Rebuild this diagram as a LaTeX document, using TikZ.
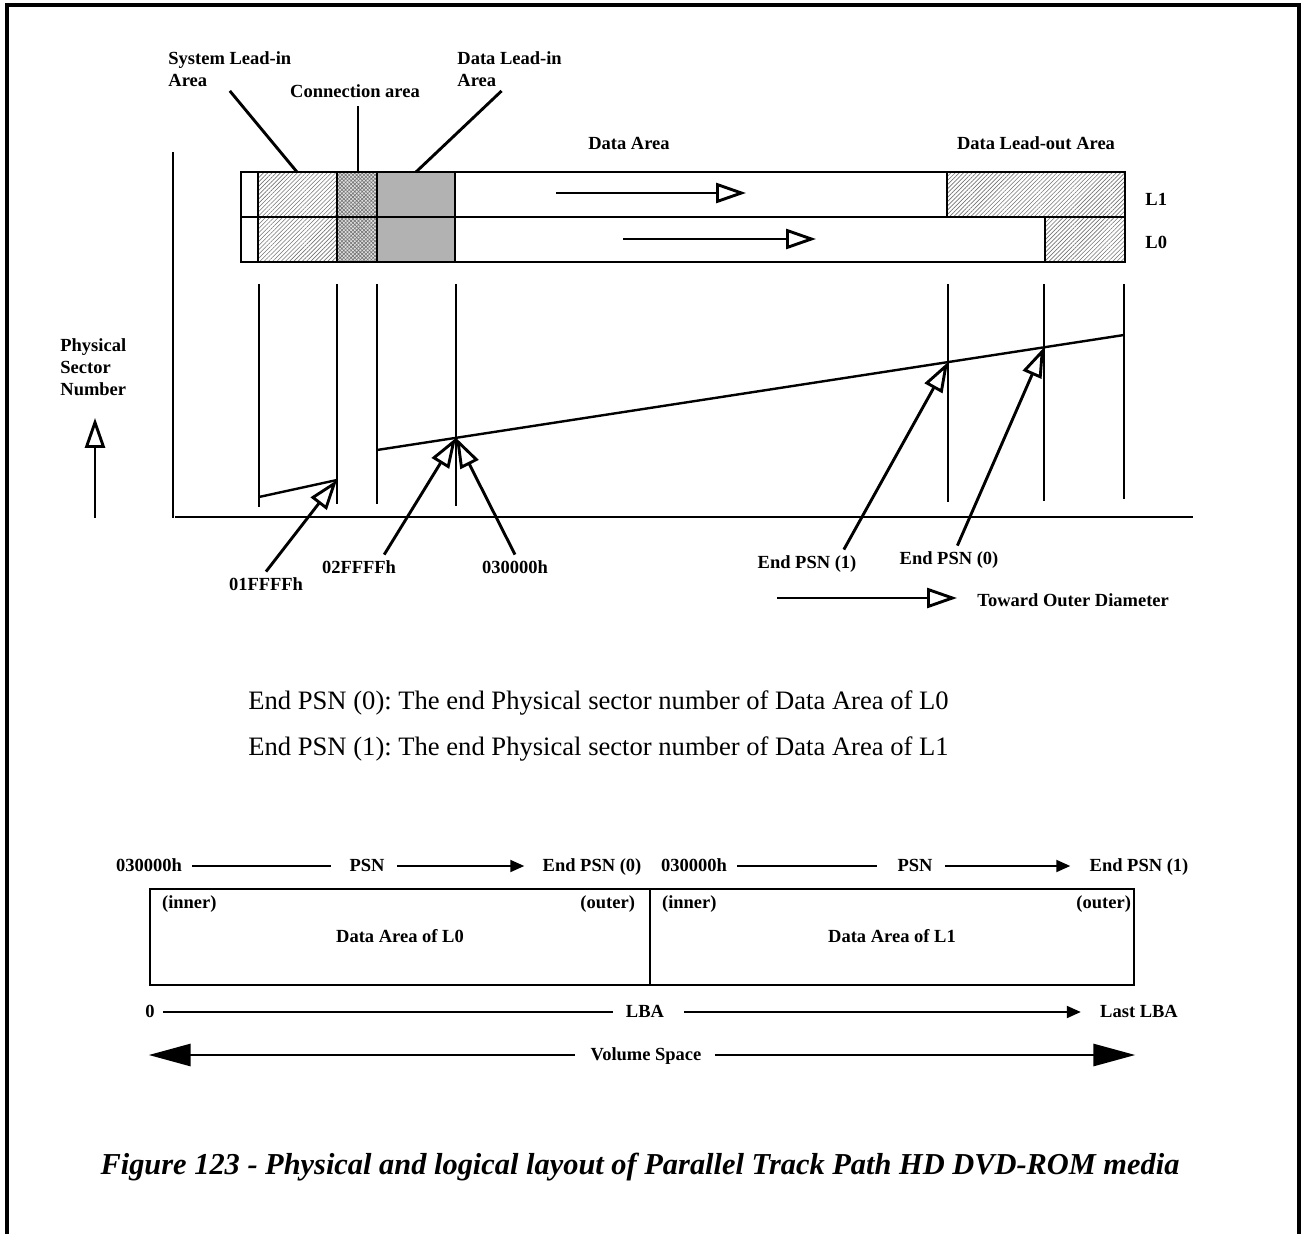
\documentclass[tikz,border=0pt]{standalone}
\usepackage{fontspec}
\setmainfont{Liberation Serif}
\usetikzlibrary{arrows.meta,patterns.meta}
\frenchspacing

\begin{document}
\begin{tikzpicture}[
		x=0.5pt, y=-0.5pt,
		every node/.style={inner sep=2pt},
		lbl/.style={font=\fontsize{9.25}{11}\selectfont\bfseries, text height=7pt, text depth=2pt},
		lbls/.style={font=\fontsize{9.25}{11}\selectfont\bfseries, align=left, anchor=west},
		note/.style={font=\fontsize{13.3}{16}\selectfont, anchor=west},
		heavy/.style={line width=1.45pt},
		slim/.style={line width=1pt},
		openhead/.style={heavy, -{Triangle[open, length=15pt, width=10pt]}},
		solidhead/.style={slim, -{Triangle[length=7pt, width=6pt]}},
		bighead/.style={heavy, -{Triangle[length=21pt, width=11pt]}},
		hatch/.style={pattern={Lines[angle=45, distance=1.5pt, line width=0.3pt]}, pattern color=black!55},
		xhatch/.style={pattern={Hatch[angle=45, distance=1.3pt, line width=0.3pt]}, pattern color=black!55},
		corner/.style={lbl, inner ysep=3pt}
	]
	\useasboundingbox (0,0) rectangle (1304,1234);
	\draw[line width=2pt] (7,1234) -- (7,5) -- (1299,5) -- (1299,1234);

	\path[hatch] (258,172) rectangle (337,262) (947,172) rectangle (1125,217) (1045,217) rectangle (1125,262);
	\fill[black!12] (337,172) rectangle (377,262);
	\path[xhatch] (337,172) rectangle (377,262);
	\fill[black!30] (377,172) rectangle (455,262);
	\draw[heavy] (241,172) rectangle (1125,262) (241,217) -- (1125,217);
	\foreach \x in {258,337,377,455}
		\draw[heavy] (\x,172) -- (\x,262);
	\draw[heavy] (947,172) -- (947,217) (1045,217) -- (1045,262);
	\coordinate (a1) at (297,172);
	\coordinate (a2) at (358,172);
	\coordinate (a3) at (416,172);
	\coordinate (f1s) at (556,193);
	\coordinate (f1e) at (746,193);
	\coordinate (f0s) at (623,239);
	\coordinate (f0e) at (816,239);
	\draw[openhead] (f1s) -- (f1e);
	\draw[openhead] (f0s) -- (f0e);

	\node[lbls] (sysl) at (164,69) {System Lead-in\\Area};
	\node[lbl] (conn) at (355,93) {Connection area};
	\node[lbls] (dlin) at (453,69) {Data Lead-in\\Area};
	\node[lbl] (darea) at (629,145) {Data Area};
	\node[lbl] (dlout) at (1036,145) {Data Lead-out Area};
	\node[lbl, anchor=west] (l1) at (1141,201) {L1};
	\node[lbl, anchor=west] (l0) at (1141,244) {L0};
	\draw[heavy] (sysl.south) -- (a1);
	\draw[heavy] (a2) -- (a2 |- conn.south);
	\draw[heavy] (dlin.250) -- (a3);

	\draw[heavy] (173,152) -- (173,518) (175,517) -- (1193,517);
	\foreach \x/\b in {259/507,337/504,377/504,456/506,948/502,1044/501,1124/499}
		\draw[heavy] (\x,284) -- (\x,\b);
	\draw[line width=1.2pt] (259,497) -- (337,480) coordinate (p1);
	\draw[line width=1.2pt] (377,450) -- (1124,335)
		coordinate[pos=0.1058] (p2) coordinate[pos=0.7644] (p3) coordinate[pos=0.8929] (p4);

	\node[lbls] (psnlab) at (56,367) {Physical\\Sector\\Number};
	\coordinate (psnb) at (95,518);
	\draw[openhead, shorten >=9pt] (psnb) -- (psnb |- psnlab.south);

	\node[lbl] (h1) at (266,585) {01FFFFh};
	\node[lbl] (h2) at (359,568) {02FFFFh};
	\node[lbl] (h3) at (515,568) {030000h};
	\node[lbl] (e1) at (807,563) {End PSN (1)};
	\node[lbl] (e0) at (949,559) {End PSN (0)};
	\draw[openhead] (h1.north) -- (p1);
	\draw[openhead] (h2.28) -- (p2);
	\draw[openhead] (h3.north) -- (p2);
	\draw[openhead] (e1.20) -- (p3);
	\draw[openhead] (e0.58) -- (p4);

	\coordinate (tod0) at (777,598);
	\node[lbl, anchor=west] (todlab) at (973,601) {Toward Outer Diameter};
	\draw[openhead, shorten >=8pt] (tod0) -- (tod0 -| todlab.west);

	\node[note] (n0) at (244,703) {End PSN (0): The end Physical sector number of Data Area of L0};
	\node[note] (n1) at (244,749) {End PSN (1): The end Physical sector number of Data Area of L1};

	\node[lbl] (s0) at (149,866) {030000h};
	\node[lbl] (psn0) at (367,866) {PSN};
	\node[lbl] (pe0) at (592,866) {End PSN (0)};
	\node[lbl] (s1) at (694,866) {030000h};
	\node[lbl] (psn1) at (915,866) {PSN};
	\node[lbl] (pe1) at (1139,866) {End PSN (1)};
	\draw[slim, shorten <=3pt, shorten >=7pt] (s0) -- (psn0);
	\draw[solidhead, shorten <=4pt, shorten >=7pt] (psn0) -- (pe0);
	\draw[slim, shorten <=3pt, shorten >=8pt] (s1) -- (psn1);
	\draw[solidhead, shorten <=4pt, shorten >=7.5pt] (psn1) -- (pe1);

	\node[draw, line width=1.3pt, lbl, minimum width=250pt, minimum height=48pt] (da0) at (400,937) {Data Area of L0};
	\node[draw, line width=1.3pt, lbl, minimum width=242pt, minimum height=48pt] (da1) at (892,937) {Data Area of L1};
	\node[corner, anchor=north west, inner xsep=6.5pt] (in0) at (da0.north west) {(inner)};
	\node[corner, anchor=north east, inner xsep=8pt] (out0) at (da0.north east) {(outer)};
	\node[corner, anchor=north west, inner xsep=6.5pt] (in1) at (da1.north west) {(inner)};
	\node[corner, anchor=north east, inner xsep=2pt] (out1) at (da1.north east) {(outer)};

	\node[lbl] (z0) at (150,1012) {0};
	\node[lbl] (lba) at (645,1012) {LBA};
	\node[lbl] (llba) at (1139,1012) {Last LBA};
	\draw[slim, shorten <=2pt, shorten >=4.5pt] (z0) -- (lba);
	\draw[solidhead, shorten <=8pt, shorten >=7.5pt] (lba) -- (llba);

	\node[lbl] (vs) at (646,1055) {Volume Space};
	\draw[bighead, shorten <=5.5pt] (vs) -- (vs -| da0.west);
	\draw[bighead, shorten <=4.5pt] (vs) -- (vs -| da1.east);

	\node[font=\fontsize{15.2}{18}\selectfont\bfseries\itshape] (cap) at (640,1167) {Figure 123 - Physical and logical layout of Parallel Track Path HD DVD-ROM media};
\end{tikzpicture}
\end{document}
